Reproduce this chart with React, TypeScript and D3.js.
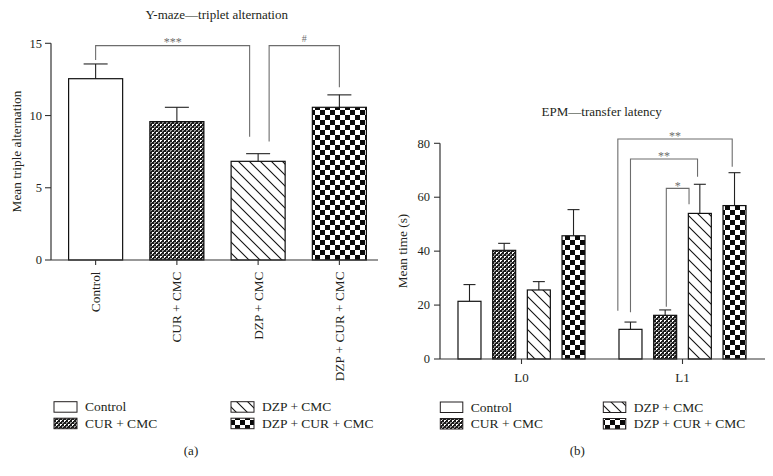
import React from 'react';
import * as d3 from 'd3';

// ---------- Data ----------
const groupsA = ['Control', 'CUR + CMC', 'DZP + CMC', 'DZP + CUR + CMC'];
const meansA = [12.55, 9.58, 6.83, 10.57];
const errA = [1.02, 0.99, 0.53, 0.86];
const ticksA = [0, 5, 10, 15];

const levelsB = ['L0', 'L1'];
const seriesB = ['Control', 'CUR + CMC', 'DZP + CMC', 'DZP + CUR + CMC'];
const controlB = [21.4, 11.0];
const curB = [40.3, 16.2];
const dzpB = [25.6, 54.0];
const dzpCurB = [45.7, 56.9];
const controlErrB = [6.2, 2.7];
const curErrB = [2.6, 2.0];
const dzpErrB = [3.1, 10.8];
const dzpCurErrB = [9.7, 12.2];
const ticksB = [0, 20, 40, 60, 80];

// significance brackets (panel a): group indices, top value, leg end values
const sigA = [
  { from: 0, to: 2, top: 14.84, endFrom: 13.85, endTo: 8.54, label: '***' },
  { from: 2, to: 3, top: 14.84, endFrom: 8.2, endTo: 11.95, label: '#' },
];
// significance brackets (panel b): level, series index + fraction across bar
const sigB = [
  { level: 1, from: 0, fFrom: -0.05, to: 3, fTo: 0.4, top: 81.6, endFrom: 17.9, endTo: 71.3, label: '**' },
  { level: 1, from: 0, fFrom: 0.5, to: 2, fTo: 0.4, top: 74.2, endFrom: 17.3, endTo: 67.6, label: '**' },
  { level: 1, from: 1, fFrom: 0.55, to: 2, fTo: 0.03, top: 63.3, endFrom: 19.4, endTo: 57.4, label: '*' },
];

const fills = ['#ffffff', 'url(#patCur)', 'url(#patDiag)', 'url(#patCheck)'];
const FONT = '"Liberation Serif", "DejaVu Serif", serif';
const INK = '#231f20';
const GREY = '#6d6d6d';

export default function App() {
  // ---------- Panel A scales ----------
  const yA = d3.scaleLinear().domain([0, 15]).range([260, 43.3]);
  const xA = d3.scaleBand().domain(groupsA).range([55, 380]).paddingInner(0.335).paddingOuter(0.1675);
  const bwA = xA.bandwidth();
  const axisAx = 51;

  // ---------- Panel B scales ----------
  const yB = d3.scaleLinear().domain([0, 80]).range([359, 143.3]);
  const x0B = d3.scaleBand().domain(levelsB).range([441, 763]).padding(0);
  const x1B = d3.scaleBand().domain(seriesB).range([0, x0B.bandwidth()]).paddingInner(0.337).paddingOuter(0.49);
  const bwB = x1B.bandwidth();
  const axisBx = 440;
  const valsB = [controlB, curB, dzpB, dzpCurB];
  const errsB = [controlErrB, curErrB, dzpErrB, dzpCurErrB];

  const cA = (i: number) => (xA(groupsA[i]) as number) + bwA / 2;
  const xb = (lvl: number, s: number, f: number) =>
    (x0B(levelsB[lvl]) as number) + (x1B(seriesB[s]) as number) + bwB * f;

  const legend = (x0: number, x1: number, yTop: number, sw: number) => (
    <g>
      {seriesB.map((s, i) => {
        const col = i < 2 ? 0 : 1;
        const row = i % 2;
        const x = col === 0 ? x0 : x1;
        const y = yTop + row * 16.5;
        return (
          <g key={s}>
            <rect x={x} y={y} width={sw} height={10.5} fill={fills[i]} stroke={INK} strokeWidth={1} />
            <text x={x + sw + 8} y={y + 9.5} fontSize={13.5} fill={INK} fontFamily={FONT}>{s}</text>
          </g>
        );
      })}
    </g>
  );

  return (
    <svg width={773} height={476} style={{ position: 'absolute', left: 0, top: 0, background: '#fff' }}
      fontFamily={FONT}>
      <defs>
        <pattern id="patCur" width={4} height={4} patternUnits="userSpaceOnUse">
          <rect width={4} height={4} fill="#1c1c1c" />
          <path d="M0,0h2v1h-1v1h-1z" fill="#ffffff" />
          <path d="M2,2h2v1h-1v1h-1z" fill="#9a9a9a" />
        </pattern>
        <pattern id="patDiag" width={11} height={11} patternUnits="userSpaceOnUse">
          <rect width={11} height={11} fill="#fff" />
          <path d="M-1,-1L12,12M-6.5,4.5L6.5,17.5M4.5,-6.5L17.5,6.5" stroke="#111" strokeWidth={1.1} />
        </pattern>
        <pattern id="patCheck" width={10} height={10} patternUnits="userSpaceOnUse">
          <rect width={10} height={10} fill="#fff" />
          <rect x={0} y={0} width={5} height={5} fill="#0a0a0a" />
          <rect x={5} y={5} width={5} height={5} fill="#0a0a0a" />
        </pattern>
      </defs>

      {/* ================= Panel A ================= */}
      <text x={216.7} y={18.5} textAnchor="middle" fontSize={13} fill={INK}>Y-maze—triplet alternation</text>
      <text transform={`translate(21,151.5) rotate(-90)`} textAnchor="middle" fontSize={13.3} fill={INK}>Mean triple alternation</text>
      {ticksA.map((t) => (
        <g key={t}>
          <line x1={axisAx - 6} x2={axisAx} y1={yA(t)} y2={yA(t)} stroke="#333" strokeWidth={1.1} />
          <text x={axisAx - 9} y={yA(t) + 4.2} textAnchor="end" fontSize={12.5} fill={INK}>{t}</text>
        </g>
      ))}
      {groupsA.map((g, i) => {
        const x = xA(g) as number;
        const top = yA(meansA[i]);
        const et = yA(meansA[i] + errA[i]);
        return (
          <g key={g}>
            <line x1={x + bwA / 2} x2={x + bwA / 2} y1={top} y2={et} stroke="#222" strokeWidth={1.1} />
            <line x1={x + bwA / 2 - 12} x2={x + bwA / 2 + 12} y1={et} y2={et} stroke="#222" strokeWidth={1.1} />
            <rect x={x} y={top} width={bwA} height={yA(0) - top} fill={fills[i]} stroke="#111" strokeWidth={1.2} />
          </g>
        );
      })}
      <line x1={axisAx} x2={axisAx} y1={yA(15)} y2={yA(0)} stroke="#333" strokeWidth={1.2} />
      <line x1={axisAx} x2={378} y1={yA(0)} y2={yA(0)} stroke="#333" strokeWidth={1.2} />
      {groupsA.map((g, i) => (
        <g key={'t' + g}>
          <line x1={cA(i)} x2={cA(i)} y1={yA(0)} y2={yA(0) + 5} stroke="#333" strokeWidth={1.1} />
          <text transform={`translate(${cA(i) + 4.6},${271.5}) rotate(-90)`} textAnchor="end" fontSize={13.3} fill={INK}>{g}</text>
        </g>
      ))}
      {sigA.map((s, k) => {
        const xf = cA(s.from) + (k === 1 ? 11 : 0);
        const xt = cA(s.to) + (k === 0 ? -8.5 : 0);
        return (
          <g key={'sa' + k}>
            <path d={`M${xf},${yA(s.endFrom)}V${yA(s.top)}H${xt}V${yA(s.endTo)}`} fill="none" stroke={GREY} strokeWidth={1.1} />
            <text x={(xf + xt) / 2} y={yA(s.top) + (s.label === '#' ? -4 : 0)} textAnchor="middle" fontSize={s.label === '#' ? 10 : 12} fill={GREY}>{s.label}</text>
          </g>
        );
      })}
      {legend(54, 231, 401.7, 23)}
      <text x={191} y={454.5} textAnchor="middle" fontSize={13} fill={INK}>(a)</text>

      {/* ================= Panel B ================= */}
      <text x={601.7} y={116} textAnchor="middle" fontSize={13} fill={INK}>EPM—transfer latency</text>
      <text transform={`translate(407,251) rotate(-90)`} textAnchor="middle" fontSize={13.3} fill={INK}>Mean time (s)</text>
      {ticksB.map((t) => (
        <g key={t}>
          <line x1={axisBx - 6} x2={axisBx} y1={yB(t)} y2={yB(t)} stroke="#333" strokeWidth={1.1} />
          <text x={axisBx - 10} y={yB(t) + 4.2} textAnchor="end" fontSize={12.5} fill={INK}>{t}</text>
        </g>
      ))}
      {levelsB.map((lvl, li) => (
        <g key={lvl}>
          {seriesB.map((s, si) => {
            const x = xb(li, si, 0);
            const v = valsB[si][li];
            const e = errsB[si][li];
            const top = yB(v);
            const et = yB(v + e);
            return (
              <g key={s}>
                <line x1={x + bwB / 2} x2={x + bwB / 2} y1={top} y2={et} stroke="#222" strokeWidth={1.1} />
                <line x1={x + bwB / 2 - 6} x2={x + bwB / 2 + 6} y1={et} y2={et} stroke="#222" strokeWidth={1.1} />
                <rect x={x} y={top} width={bwB} height={yB(0) - top} fill={fills[si]} stroke="#111" strokeWidth={1.2} />
              </g>
            );
          })}
        </g>
      ))}
      <line x1={axisBx} x2={axisBx} y1={yB(80)} y2={yB(0)} stroke="#333" strokeWidth={1.2} />
      <line x1={axisBx} x2={765} y1={yB(0)} y2={yB(0)} stroke="#333" strokeWidth={1.2} />
      {levelsB.map((lvl) => {
        const cx = (x0B(lvl) as number) + x0B.bandwidth() / 2;
        return (
          <g key={'tb' + lvl}>
            <line x1={cx} x2={cx} y1={yB(0)} y2={yB(0) + 5} stroke="#333" strokeWidth={1.1} />
            <text x={cx} y={381.5} textAnchor="middle" fontSize={13} fill={INK}>{lvl}</text>
          </g>
        );
      })}
      {sigB.map((s, k) => {
        const xf = xb(s.level, s.from, s.fFrom);
        const xt = xb(s.level, s.to, s.fTo);
        return (
          <g key={'sb' + k}>
            <path d={`M${xf},${yB(s.endFrom)}V${yB(s.top)}H${xt}V${yB(s.endTo)}`} fill="none" stroke={GREY} strokeWidth={1.1} />
            <text x={(xf + xt) / 2} y={yB(s.top) + 1.5} textAnchor="middle" fontSize={12} fill={GREY}>{s.label}</text>
          </g>
        );
      })}
      {legend(440.3, 603.3, 402, 22.5)}
      <text x={577.3} y={454.5} textAnchor="middle" fontSize={13} fill={INK}>(b)</text>
    </svg>
  );
}
